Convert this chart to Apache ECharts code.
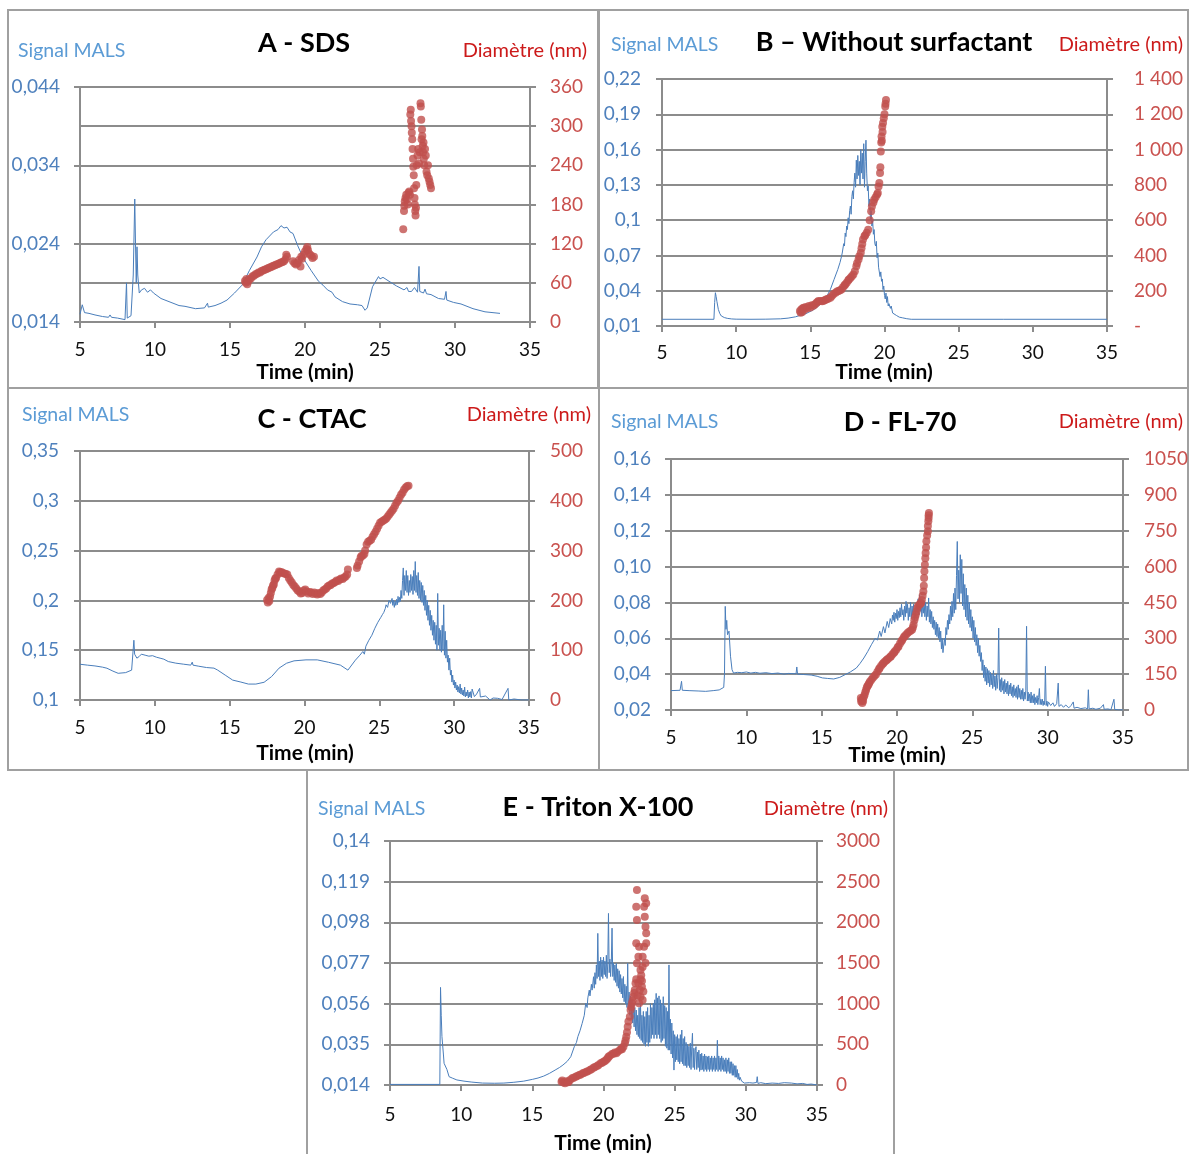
<!DOCTYPE html>
<html>
<head>
<meta charset="utf-8">
<script src="https://cdn.jsdelivr.net/npm/echarts@6/dist/echarts.min.js"></script>
<style>
html,body{margin:0;padding:0;background:#fff;}
#chart{width:1192px;height:1154px;}
</style>
</head>
<body>
<div id="chart"></div>
<script>
// ---------------- DATA ----------------
const xTicks = [5, 10, 15, 20, 25, 30, 35];

// Panel A - SDS
const malsA = [[5.0,0.0150],[5.15,0.0162],[5.3,0.0152],[5.6,0.0151],[6.0,0.0149],[6.5,0.0147],[6.9,0.0146],[7.0,0.0149],[7.1,0.0146],[7.5,0.0145],[8.0,0.0143],[8.05,0.0144],[8.1,0.0190],[8.15,0.0145],[8.4,0.0148],[8.55,0.0200],[8.65,0.0297],[8.7,0.0240],[8.75,0.0190],[8.8,0.0236],[8.85,0.0200],[8.95,0.0177],[9.1,0.0181],[9.3,0.0183],[9.5,0.0178],[9.7,0.0181],[9.9,0.0177],[10.4,0.0170],[10.8,0.0167],[11.2,0.0164],[11.6,0.0161],[12.0,0.0160],[12.7,0.0157],[13.3,0.0158],[13.5,0.0164],[13.55,0.0159],[14.0,0.0161],[14.4,0.0164],[14.8,0.0168],[15.3,0.0177],[15.8,0.0187],[16.3,0.0206],[16.8,0.0223],[17.1,0.0236],[17.4,0.0245],[17.9,0.0255],[18.2,0.0258],[18.4,0.0263],[18.6,0.0260],[18.8,0.0261],[19.0,0.0255],[19.2,0.0253],[19.5,0.0238],[19.9,0.0221],[20.4,0.0206],[20.9,0.0192],[21.2,0.0187],[21.5,0.0181],[21.8,0.0178],[22.0,0.0172],[22.5,0.0166],[23.0,0.0163],[23.5,0.0162],[23.8,0.0161],[24.0,0.0155],[24.15,0.0158],[24.5,0.0185],[24.9,0.0198],[25.0,0.0195],[25.2,0.0197],[25.6,0.0192],[26.1,0.0186],[26.6,0.0181],[26.8,0.0184],[26.9,0.0179],[27.1,0.0179],[27.3,0.0184],[27.5,0.0178],[27.6,0.0211],[27.65,0.0179],[27.9,0.0177],[28.0,0.0182],[28.1,0.0176],[28.4,0.0175],[28.9,0.0170],[29.3,0.0169],[29.4,0.0179],[29.45,0.0168],[29.9,0.0165],[30.4,0.0163],[31.2,0.0157],[32.0,0.0153],[33.0,0.0151]];
const diamA = [[16.0,63],[16.05,60],[16.1,66],[16.15,58],[16.2,62],[16.3,65],[16.4,67],[16.5,70],[16.6,71],[16.7,73],[16.8,74],[16.9,76],[17.0,76],[17.1,78],[17.2,79],[17.3,80],[17.4,81],[17.5,82],[17.6,83],[17.7,84],[17.8,85],[17.9,86],[18.0,87],[18.1,88],[18.2,89],[18.3,90],[18.4,91],[18.5,92],[18.6,93],[18.7,96],[18.75,103],[18.8,100],[19.2,93],[19.3,90],[19.4,88],[19.5,90],[19.6,95],[19.7,85],[19.75,100],[19.8,97],[19.9,103],[20.0,108],[20.1,112],[20.15,115],[20.2,110],[20.3,104],[20.4,102],[20.5,98],[20.6,100],[26.55,142],[26.6,170],[26.62,178],[26.65,185],[26.7,190],[26.75,195],[26.8,188],[26.85,180],[26.9,198],[26.95,200],[27.0,195],[27.02,318],[27.05,325],[27.07,308],[27.1,300],[27.12,290],[27.15,280],[27.17,265],[27.2,250],[27.22,238],[27.25,225],[27.27,205],[27.3,190],[27.32,180],[27.35,170],[27.37,163],[27.4,175],[27.42,210],[27.45,240],[27.5,255],[27.55,265],[27.6,243],[27.65,260],[27.7,335],[27.72,330],[27.75,310],[27.77,280],[27.8,295],[27.82,285],[27.85,270],[27.87,260],[27.9,275],[27.92,250],[27.95,240],[28.0,265],[28.05,255],[28.1,230],[28.15,225],[28.2,240],[28.25,220],[28.3,215],[28.35,210],[28.4,205]];
const leftTicksA = [0.014, 0.024, 0.034, 0.044];
const leftLabelsA = ['0,014', '0,024', '0,034', '0,044'];
const rightTicksA = [0, 60, 120, 180, 240, 300, 360];
const rightLabelsA = ['0', '60', '120', '180', '240', '300', '360'];

// Panel B - Without surfactant
const malsB = [[5,0.0157],[8.5,0.0157],[8.55,0.030],[8.6,0.0383],[8.65,0.035],[8.7,0.031],[8.8,0.024],[8.9,0.0205],[9.0,0.0185],[9.2,0.0172],[9.4,0.0165],[9.7,0.0160],[10,0.0158],[11,0.0157],[12,0.0158],[13,0.0161],[13.5,0.0167],[14.0,0.0178],[14.3,0.0190],[14.7,0.0205],[15.05,0.0227],[15.3,0.0245],[15.55,0.0270],[15.8,0.030],[16.1,0.035],[16.35,0.041],[16.6,0.0496],[16.85,0.058],[17.0,0.064],[17.1,0.069],[17.15,0.072],[17.25,0.080],[17.3,0.078],[17.35,0.089],[17.4,0.086],[17.45,0.095],[17.5,0.092],[17.55,0.102],[17.6,0.097],[17.65,0.108],[17.7,0.112],[17.75,0.105],[17.8,0.120],[17.85,0.125],[17.9,0.118],[17.95,0.132],[18.0,0.140],[18.05,0.128],[18.1,0.151],[18.15,0.135],[18.2,0.155],[18.25,0.138],[18.3,0.150],[18.35,0.130],[18.4,0.160],[18.45,0.140],[18.5,0.157],[18.55,0.135],[18.6,0.165],[18.65,0.128],[18.7,0.150],[18.75,0.168],[18.8,0.140],[18.85,0.125],[18.9,0.129],[18.95,0.112],[19.0,0.118],[19.05,0.100],[19.1,0.108],[19.15,0.095],[19.2,0.100],[19.25,0.088],[19.3,0.092],[19.35,0.080],[19.4,0.078],[19.45,0.082],[19.5,0.068],[19.55,0.072],[19.6,0.060],[19.65,0.061],[19.7,0.052],[19.75,0.056],[19.8,0.048],[19.85,0.050],[19.9,0.041],[19.95,0.044],[20.0,0.036],[20.05,0.033],[20.1,0.038],[20.15,0.030],[20.2,0.035],[20.25,0.027],[20.3,0.029],[20.4,0.025],[20.45,0.027],[20.55,0.021],[20.65,0.022],[20.8,0.019],[21.0,0.0175],[21.2,0.017],[21.5,0.0162],[21.8,0.0157],[23,0.0157],[28,0.0157],[28.05,0.0160],[28.1,0.0157],[35,0.0157]];
const diamB = [[14.3,85],[14.35,75],[14.4,95],[14.45,80],[14.5,100],[14.55,104],[14.6,92],[14.7,108],[14.8,100],[14.9,113],[15.0,105],[15.1,118],[15.2,115],[15.3,122],[15.4,130],[15.5,138],[15.55,141],[15.7,142],[15.8,140],[15.9,143],[16.0,148],[16.1,152],[16.2,155],[16.35,160],[16.45,170],[16.55,180],[16.7,188],[16.8,195],[16.9,198],[17.0,203],[17.1,207],[17.2,220],[17.3,230],[17.35,235],[17.45,245],[17.55,258],[17.6,264],[17.7,272],[17.8,282],[17.9,292],[18.0,310],[18.1,339],[18.15,355],[18.25,377],[18.3,395],[18.4,415],[18.45,440],[18.5,465],[18.55,490],[18.65,509],[18.7,515],[18.8,528],[18.9,546],[19.0,600],[19.1,650],[19.15,678],[19.25,700],[19.3,716],[19.4,730],[19.5,745],[19.55,754],[19.6,790],[19.65,810],[19.7,867],[19.72,900],[19.75,989],[19.78,1040],[19.8,1074],[19.82,1050],[19.85,1130],[19.87,1100],[19.9,1150],[19.95,1178],[20.0,1200],[20.05,1244],[20.07,1260],[20.1,1281]];
const leftTicksB = [0.01, 0.04, 0.07, 0.1, 0.13, 0.16, 0.19, 0.22];
const leftLabelsB = ['0,01', '0,04', '0,07', '0,1', '0,13', '0,16', '0,19', '0,22'];
const rightTicksB = [0, 200, 400, 600, 800, 1000, 1200, 1400];
const rightLabelsB = ['-', '200', '400', '600', '800', '1 000', '1 200', '1 400'];

// Panel C - CTAC
const malsC = [[5,0.1359],[5.5,0.1350],[6.0,0.1342],[6.5,0.1330],[6.8,0.1319],[7.2,0.1290],[7.55,0.1268],[8.05,0.1275],[8.45,0.1300],[8.55,0.1310],[8.6,0.1600],[8.65,0.1460],[8.7,0.1450],[8.8,0.1420],[8.95,0.1436],[9.1,0.1460],[9.35,0.1450],[9.6,0.1440],[9.85,0.1445],[10.1,0.1430],[10.35,0.1420],[10.6,0.1410],[10.9,0.1386],[11.4,0.1370],[11.9,0.1360],[12.4,0.1350],[12.5,0.1380],[12.55,0.1350],[12.9,0.1340],[13.45,0.1326],[13.95,0.1320],[14.2,0.1300],[14.7,0.1250],[15.2,0.1200],[15.75,0.1180],[16.25,0.1160],[16.75,0.1160],[17.3,0.1178],[17.8,0.1235],[18.3,0.1320],[18.8,0.1369],[19.3,0.1393],[20.1,0.1403],[20.85,0.1403],[21.6,0.1379],[22.4,0.1350],[22.9,0.1300],[23.0,0.1285],[23.4,0.1400],[23.7,0.1450],[23.9,0.1487],[24.0,0.1460],[24.1,0.1540],[24.2,0.1520],[24.3,0.1600],[24.4,0.1580],[24.5,0.1650],[24.6,0.1630],[24.7,0.1720],[24.8,0.1700],[24.9,0.1780],[25.0,0.1760],[25.1,0.1830],[25.2,0.1856],[25.3,0.1880],[25.4,0.1920],[25.45,0.1956],[25.55,0.1930],[25.65,0.2000],[25.75,0.1970],[25.85,0.2020],[25.9,0.1950],[25.95,0.2000],[26.0,0.1930],[26.05,0.1990],[26.1,0.1950],[26.15,0.2010],[26.2,0.1956],[26.25,0.2040],[26.3,0.1980],[26.35,0.2030],[26.4,0.1990],[26.45,0.2100],[26.5,0.2020],[26.55,0.2200],[26.6,0.2326],[26.65,0.2050],[26.7,0.2250],[26.75,0.2100],[26.8,0.2300],[26.85,0.2080],[26.9,0.2250],[26.95,0.2050],[27.0,0.2200],[27.05,0.2080],[27.1,0.2260],[27.15,0.2100],[27.2,0.2240],[27.25,0.2060],[27.3,0.2300],[27.35,0.2100],[27.4,0.2390],[27.45,0.2080],[27.5,0.2250],[27.55,0.2050],[27.6,0.2280],[27.65,0.2020],[27.7,0.2200],[27.75,0.2000],[27.8,0.2180],[27.85,0.1980],[27.9,0.2150],[27.95,0.1950],[28.0,0.2100],[28.05,0.1900],[28.1,0.2050],[28.15,0.1850],[28.2,0.2000],[28.25,0.1800],[28.3,0.1950],[28.35,0.1750],[28.4,0.1900],[28.45,0.1700],[28.5,0.1850],[28.55,0.1650],[28.6,0.1800],[28.65,0.1600],[28.7,0.1780],[28.75,0.1560],[28.8,0.1750],[28.85,0.1500],[28.9,0.2070],[28.95,0.1550],[29.0,0.1720],[29.05,0.1500],[29.1,0.1700],[29.15,0.1480],[29.2,0.1750],[29.25,0.1500],[29.3,0.1956],[29.35,0.1450],[29.4,0.1690],[29.45,0.1420],[29.5,0.1600],[29.55,0.1380],[29.6,0.1450],[29.65,0.1300],[29.7,0.1420],[29.75,0.1250],[29.8,0.1300],[29.85,0.1180],[29.9,0.1250],[29.95,0.1150],[30.0,0.1200],[30.05,0.1120],[30.1,0.1180],[30.15,0.1100],[30.2,0.1150],[30.25,0.1080],[30.3,0.1134],[30.35,0.1070],[30.4,0.1160],[30.45,0.1060],[30.5,0.1120],[30.55,0.1050],[30.6,0.1100],[30.65,0.1040],[30.7,0.1130],[30.75,0.1030],[30.8,0.1080],[30.85,0.1040],[30.9,0.1100],[30.95,0.1020],[31.0,0.1080],[31.05,0.1030],[31.1,0.1084],[31.15,0.1020],[31.2,0.1110],[31.35,0.1034],[31.5,0.1060],[31.6,0.1050],[31.7,0.1117],[31.75,0.1030],[31.85,0.1017],[32.1,0.1040],[32.4,0.1000],[32.6,0.1020],[32.9,0.1017],[33.2,0.1005],[33.6,0.1117],[33.65,0.1000],[34.0,0.1010],[34.5,0.1000],[35,0.1000]];
const diamC = [[17.5,201],[17.55,196],[17.6,205],[17.65,199],[17.7,208],[17.75,215],[17.8,222],[17.85,225],[17.9,230],[17.95,232],[18.0,240],[18.05,244],[18.1,245],[18.2,252],[18.3,258],[18.35,256],[18.45,257],[18.55,255],[18.65,254],[18.75,253],[18.85,252],[18.95,245],[19.05,240],[19.15,236],[19.25,231],[19.35,228],[19.45,224],[19.55,220],[19.65,218],[19.75,214],[19.85,215],[19.95,220],[20.05,222],[20.15,218],[20.25,214],[20.35,217],[20.45,216],[20.55,213],[20.65,216],[20.75,214],[20.85,212],[20.95,215],[21.05,213],[21.15,216],[21.25,220],[21.35,222],[21.45,224],[21.55,228],[21.65,230],[21.75,231],[21.85,234],[21.95,235],[22.05,237],[22.15,240],[22.25,239],[22.35,242],[22.45,244],[22.55,243],[22.65,246],[22.75,248],[22.85,252],[22.9,262],[23.5,265],[23.55,270],[23.65,278],[23.75,286],[23.8,289],[23.9,290],[24.0,293],[24.05,300],[24.15,312],[24.25,318],[24.35,320],[24.45,322],[24.55,328],[24.65,333],[24.75,338],[24.85,344],[24.95,350],[25.05,356],[25.15,358],[25.25,360],[25.35,362],[25.45,364],[25.55,368],[25.65,372],[25.75,376],[25.85,380],[25.95,384],[26.05,390],[26.15,396],[26.25,400],[26.35,406],[26.45,412],[26.55,416],[26.65,422],[26.75,426],[26.85,429],[26.95,430]];
const leftTicksC = [0.1, 0.15, 0.2, 0.25, 0.3, 0.35];
const leftLabelsC = ['0,1', '0,15', '0,2', '0,25', '0,3', '0,35'];
const rightTicksC = [0, 100, 200, 300, 400, 500];
const rightLabelsC = ['0', '100', '200', '300', '400', '500'];

// Panel D - FL-70
const malsD = [[5,0.0308],[5.6,0.0310],[5.7,0.0360],[5.75,0.0310],[6.2,0.0308],[6.8,0.0306],[7.3,0.0304],[7.8,0.0308],[8.2,0.0312],[8.5,0.0326],[8.55,0.0400],[8.6,0.0778],[8.65,0.0650],[8.7,0.0700],[8.75,0.0620],[8.85,0.0640],[8.95,0.0500],[9.05,0.0425],[9.15,0.0406],[9.4,0.0410],[9.7,0.0408],[10.0,0.0412],[10.3,0.0406],[10.6,0.0410],[10.9,0.0405],[11.3,0.0408],[11.7,0.0403],[12.1,0.0406],[12.5,0.0400],[12.8,0.0404],[13.3,0.0402],[13.35,0.0440],[13.4,0.0400],[13.8,0.0398],[14.3,0.0395],[14.7,0.0388],[15.05,0.0379],[15.4,0.0376],[15.8,0.0373],[16.2,0.0382],[16.55,0.0397],[16.9,0.0412],[17.3,0.0434],[17.55,0.0460],[17.8,0.0490],[18.05,0.0525],[18.3,0.0564],[18.55,0.0600],[18.7,0.0590],[18.85,0.0640],[18.95,0.0610],[19.1,0.0665],[19.2,0.0630],[19.35,0.0694],[19.45,0.0660],[19.55,0.0710],[19.6,0.0705],[19.65,0.0680],[19.7,0.0730],[19.75,0.0700],[19.8,0.0745],[19.85,0.0690],[19.9,0.0740],[19.95,0.0710],[20.0,0.0760],[20.05,0.0700],[20.1,0.0750],[20.15,0.0715],[20.2,0.0770],[20.25,0.0720],[20.3,0.0790],[20.35,0.0730],[20.4,0.0760],[20.45,0.0700],[20.5,0.0780],[20.55,0.0720],[20.6,0.0806],[20.65,0.0740],[20.7,0.0790],[20.75,0.0700],[20.8,0.0770],[20.85,0.0720],[20.9,0.0800],[20.95,0.0710],[21.0,0.0780],[21.05,0.0730],[21.1,0.0790],[21.15,0.0700],[21.2,0.0760],[21.25,0.0720],[21.3,0.0800],[21.35,0.0740],[21.4,0.0820],[21.45,0.0730],[21.5,0.0843],[21.55,0.0750],[21.6,0.0800],[21.65,0.0720],[21.7,0.0790],[21.75,0.0740],[21.8,0.0810],[21.85,0.0720],[21.9,0.0800],[21.95,0.0700],[22.0,0.0780],[22.05,0.0720],[22.1,0.0825],[22.15,0.0690],[22.2,0.0760],[22.25,0.0680],[22.3,0.0750],[22.35,0.0660],[22.4,0.0720],[22.45,0.0650],[22.5,0.0700],[22.55,0.0620],[22.6,0.0690],[22.65,0.0610],[22.7,0.0680],[22.75,0.0600],[22.8,0.0660],[22.85,0.0580],[22.9,0.0640],[22.95,0.0540],[23.0,0.0600],[23.05,0.0520],[23.1,0.0509],[23.15,0.0600],[23.2,0.0560],[23.25,0.0660],[23.3,0.0620],[23.35,0.0700],[23.4,0.0650],[23.45,0.0732],[23.5,0.0680],[23.55,0.0780],[23.6,0.0700],[23.65,0.0806],[23.7,0.0720],[23.75,0.0850],[23.8,0.0740],[23.85,0.0880],[23.9,0.0760],[23.95,0.0950],[24.0,0.1140],[24.05,0.0820],[24.1,0.0980],[24.15,0.0800],[24.2,0.1066],[24.25,0.0850],[24.3,0.1040],[24.35,0.0780],[24.4,0.0960],[24.45,0.0760],[24.5,0.0900],[24.55,0.0720],[24.6,0.0880],[24.65,0.0700],[24.7,0.0840],[24.75,0.0680],[24.8,0.0800],[24.85,0.0660],[24.9,0.0760],[24.95,0.0640],[25.0,0.0720],[25.05,0.0600],[25.1,0.0700],[25.15,0.0580],[25.2,0.0660],[25.25,0.0560],[25.3,0.0620],[25.35,0.0520],[25.4,0.0600],[25.45,0.0500],[25.5,0.0560],[25.55,0.0471],[25.6,0.0520],[25.65,0.0420],[25.7,0.0480],[25.75,0.0380],[25.8,0.0450],[25.85,0.0360],[25.9,0.0440],[25.95,0.0340],[26.0,0.0430],[26.05,0.0350],[26.1,0.0420],[26.15,0.0330],[26.2,0.0410],[26.25,0.0340],[26.3,0.0400],[26.35,0.0320],[26.4,0.0420],[26.45,0.0330],[26.5,0.0390],[26.55,0.0310],[26.6,0.0400],[26.65,0.0320],[26.7,0.0380],[26.75,0.0657],[26.8,0.0310],[26.85,0.0370],[26.9,0.0300],[26.95,0.0380],[27.0,0.0310],[27.05,0.0360],[27.1,0.0290],[27.15,0.0370],[27.2,0.0300],[27.25,0.0350],[27.3,0.0290],[27.35,0.0360],[27.4,0.0280],[27.45,0.0340],[27.5,0.0290],[27.55,0.0350],[27.6,0.0280],[27.65,0.0330],[27.7,0.0270],[27.75,0.0340],[27.8,0.0280],[27.85,0.0320],[27.9,0.0270],[27.95,0.0330],[28.0,0.0260],[28.05,0.0340],[28.1,0.0270],[28.15,0.0320],[28.2,0.0260],[28.25,0.0310],[28.3,0.0260],[28.35,0.0320],[28.4,0.0250],[28.45,0.0300],[28.5,0.0260],[28.55,0.0310],[28.6,0.0667],[28.65,0.0250],[28.7,0.0300],[28.75,0.0250],[28.8,0.0290],[28.85,0.0240],[28.9,0.0300],[28.95,0.0240],[29.0,0.0280],[29.05,0.0240],[29.1,0.0290],[29.15,0.0230],[29.2,0.0270],[29.25,0.0240],[29.3,0.0280],[29.35,0.0230],[29.4,0.0270],[29.45,0.0320],[29.5,0.0230],[29.55,0.0260],[29.6,0.0230],[29.65,0.0260],[29.7,0.0225],[29.75,0.0250],[29.8,0.0230],[29.85,0.0444],[29.9,0.0225],[29.95,0.0250],[30.0,0.0220],[30.05,0.0245],[30.2,0.0225],[30.35,0.0240],[30.45,0.0220],[30.6,0.0235],[30.7,0.0350],[30.75,0.0220],[30.9,0.0230],[31.05,0.0215],[31.2,0.0228],[31.4,0.0212],[31.55,0.0225],[31.7,0.0245],[31.75,0.0210],[31.95,0.0215],[32.2,0.0208],[32.5,0.0212],[32.65,0.0206],[32.7,0.0313],[32.75,0.0206],[33.0,0.0210],[33.2,0.0204],[33.5,0.0210],[33.7,0.0230],[33.75,0.0204],[34.0,0.0206],[34.2,0.0202],[34.4,0.0260],[34.45,0.0203],[34.7,0.0201],[35,0.0200]];
const diamD = [[17.6,50],[17.62,36],[17.65,42],[17.7,29],[17.72,45],[17.75,38],[17.8,55],[17.85,64],[17.9,75],[17.95,85],[18.0,95],[18.05,100],[18.1,106],[18.15,112],[18.2,118],[18.3,127],[18.4,135],[18.5,142],[18.6,148],[18.7,160],[18.8,170],[18.85,176],[18.95,185],[19.05,192],[19.1,197],[19.2,203],[19.3,208],[19.35,211],[19.45,217],[19.55,222],[19.6,225],[19.7,233],[19.8,240],[19.85,245],[19.95,252],[20.05,262],[20.1,266],[20.2,278],[20.3,288],[20.35,294],[20.45,303],[20.5,308],[20.6,315],[20.7,322],[20.8,327],[20.9,332],[21.0,336],[21.05,345],[21.1,357],[21.15,375],[21.2,388],[21.25,399],[21.3,412],[21.35,427],[21.4,435],[21.5,441],[21.55,445],[21.6,448],[21.65,460],[21.7,478],[21.75,496],[21.78,520],[21.8,552],[21.82,580],[21.85,608],[21.88,635],[21.9,657],[21.93,680],[21.95,706],[22.0,730],[22.05,748],[22.05,770],[22.08,790],[22.1,803],[22.1,815],[22.12,824]];
const leftTicksD = [0.02, 0.04, 0.06, 0.08, 0.10, 0.12, 0.14, 0.16];
const leftLabelsD = ['0,02', '0,04', '0,06', '0,08', '0,10', '0,12', '0,14', '0,16'];
const rightTicksD = [0, 150, 300, 450, 600, 750, 900, 1050];
const rightLabelsD = ['0', '150', '300', '450', '600', '750', '900', '1050'];

// Panel E - Triton X-100
const malsE = [[5,0.0143],[8.5,0.0143],[8.55,0.0644],[8.6,0.0500],[8.65,0.0390],[8.75,0.0300],[8.8,0.0252],[8.9,0.0255],[9.0,0.0220],[9.15,0.0183],[9.4,0.0175],[9.7,0.0166],[10.2,0.0160],[10.75,0.0155],[11.5,0.0150],[12.35,0.0149],[13.0,0.0150],[13.7,0.0154],[14.4,0.0160],[15.0,0.0169],[15.4,0.0176],[15.8,0.0186],[16.2,0.0200],[16.6,0.0217],[16.9,0.0230],[17.15,0.0243],[17.45,0.0262],[17.7,0.0286],[17.95,0.0338],[18.1,0.0360],[18.2,0.0390],[18.35,0.0420],[18.5,0.0458],[18.65,0.0500],[18.75,0.0562],[18.85,0.0540],[18.9,0.0590],[19.0,0.0630],[19.05,0.0600],[19.15,0.0660],[19.2,0.0630],[19.3,0.0699],[19.35,0.0640],[19.4,0.0720],[19.45,0.0660],[19.5,0.0760],[19.55,0.0690],[19.6,0.0923],[19.65,0.0700],[19.7,0.0780],[19.75,0.0680],[19.8,0.0800],[19.85,0.0700],[19.9,0.0785],[19.95,0.0690],[20.0,0.0800],[20.05,0.0710],[20.1,0.0780],[20.15,0.0700],[20.2,0.0810],[20.25,0.0690],[20.3,0.0770],[20.35,0.1026],[20.4,0.0720],[20.45,0.0790],[20.5,0.0700],[20.55,0.0780],[20.6,0.0950],[20.65,0.0700],[20.7,0.0770],[20.75,0.0680],[20.8,0.0760],[20.85,0.0670],[20.9,0.0768],[20.95,0.0650],[21.0,0.0740],[21.05,0.0640],[21.1,0.0730],[21.15,0.0620],[21.2,0.0710],[21.25,0.0610],[21.3,0.0690],[21.35,0.0590],[21.4,0.0700],[21.45,0.0570],[21.5,0.0660],[21.55,0.0560],[21.6,0.0650],[21.65,0.0540],[21.7,0.0768],[21.75,0.0530],[21.8,0.0620],[21.85,0.0500],[21.9,0.0600],[21.95,0.0480],[22.0,0.0580],[22.05,0.0460],[22.1,0.0562],[22.15,0.0440],[22.2,0.0540],[22.25,0.0420],[22.3,0.0527],[22.35,0.0400],[22.4,0.0500],[22.45,0.0390],[22.5,0.0540],[22.55,0.0380],[22.6,0.0562],[22.65,0.0370],[22.7,0.0500],[22.75,0.0360],[22.8,0.0520],[22.85,0.0350],[22.9,0.0493],[22.95,0.0340],[23.0,0.0520],[23.05,0.0360],[23.1,0.0540],[23.15,0.0340],[23.2,0.0500],[23.25,0.0360],[23.3,0.0560],[23.35,0.0380],[23.4,0.0540],[23.45,0.0400],[23.5,0.0562],[23.55,0.0380],[23.6,0.0580],[23.65,0.0400],[23.7,0.0613],[23.75,0.0380],[23.8,0.0590],[23.85,0.0400],[23.9,0.0600],[23.95,0.0380],[24.0,0.0580],[24.05,0.0360],[24.1,0.0560],[24.15,0.0370],[24.2,0.0596],[24.25,0.0380],[24.3,0.0550],[24.35,0.0340],[24.4,0.0540],[24.45,0.0330],[24.5,0.0520],[24.55,0.0320],[24.6,0.0760],[24.65,0.0320],[24.7,0.0480],[24.75,0.0300],[24.8,0.0460],[24.85,0.0280],[24.9,0.0420],[24.95,0.0217],[25.0,0.0400],[25.05,0.0260],[25.1,0.0390],[25.15,0.0270],[25.2,0.0400],[25.25,0.0260],[25.3,0.0380],[25.35,0.0250],[25.4,0.0400],[25.45,0.0260],[25.5,0.0424],[25.55,0.0250],[25.6,0.0380],[25.65,0.0240],[25.7,0.0390],[25.75,0.0240],[25.8,0.0360],[25.85,0.0230],[25.9,0.0350],[25.95,0.0240],[26.0,0.0340],[26.05,0.0230],[26.1,0.0356],[26.15,0.0220],[26.2,0.0340],[26.25,0.0407],[26.3,0.0230],[26.35,0.0330],[26.4,0.0220],[26.45,0.0320],[26.5,0.0338],[26.55,0.0220],[26.6,0.0310],[26.65,0.0230],[26.7,0.0320],[26.75,0.0210],[26.8,0.0300],[26.85,0.0217],[26.9,0.0304],[26.95,0.0220],[27.0,0.0290],[27.05,0.0210],[27.1,0.0300],[27.15,0.0220],[27.2,0.0290],[27.25,0.0210],[27.3,0.0286],[27.35,0.0220],[27.4,0.0290],[27.45,0.0210],[27.5,0.0280],[27.55,0.0220],[27.6,0.0290],[27.65,0.0210],[27.7,0.0280],[27.75,0.0220],[27.8,0.0290],[27.85,0.0210],[27.9,0.0280],[27.95,0.0220],[28.0,0.0371],[28.05,0.0210],[28.1,0.0290],[28.15,0.0220],[28.2,0.0280],[28.25,0.0210],[28.3,0.0290],[28.35,0.0220],[28.4,0.0280],[28.45,0.0210],[28.5,0.0270],[28.55,0.0210],[28.6,0.0280],[28.65,0.0200],[28.7,0.0270],[28.75,0.0210],[28.8,0.0280],[28.85,0.0200],[28.9,0.0260],[28.95,0.0200],[29.0,0.0260],[29.05,0.0190],[29.1,0.0250],[29.15,0.0190],[29.2,0.0240],[29.25,0.0180],[29.3,0.0240],[29.35,0.0180],[29.4,0.0220],[29.45,0.0170],[29.5,0.0200],[29.55,0.0165],[29.6,0.0180],[29.7,0.0160],[29.8,0.0165],[29.9,0.0150],[30.0,0.0155],[30.25,0.0152],[30.5,0.0150],[30.75,0.0153],[30.8,0.0183],[30.85,0.0148],[31.05,0.0152],[31.4,0.0147],[31.85,0.0150],[32.3,0.0148],[32.7,0.0152],[33.2,0.0150],[33.6,0.0146],[34.0,0.0148],[34.3,0.0143],[34.6,0.0145],[35,0.0140]];
const diamE = [[17.05,41],[17.1,55],[17.2,30],[17.3,20],[17.4,45],[17.5,35],[17.55,41],[17.65,60],[17.8,82],[17.9,90],[18.05,102],[18.15,110],[18.3,123],[18.4,130],[18.55,143],[18.65,150],[18.8,164],[18.9,170],[19.05,184],[19.15,195],[19.3,213],[19.4,220],[19.55,234],[19.65,245],[19.8,266],[19.9,275],[20.0,285],[20.1,295],[20.2,310],[20.3,330],[20.35,348],[20.45,360],[20.6,381],[20.7,385],[20.8,400],[20.9,389],[21.0,410],[21.15,430],[21.25,445],[21.3,440],[21.4,471],[21.5,512],[21.55,550],[21.6,594],[21.65,650],[21.7,717],[21.75,780],[21.85,840],[21.9,922],[21.95,960],[22.0,1004],[22.05,1040],[22.1,1086],[22.15,1130],[22.2,1168],[22.25,1250],[22.3,1300],[22.35,1496],[22.45,1578],[22.3,1742],[22.35,2029],[22.3,2193],[22.35,2398],[22.5,1701],[22.6,1414],[22.65,1350],[22.7,1280],[22.75,1045],[22.85,2193],[22.9,2295],[23.0,2234],[22.9,2070],[22.95,1947],[23.0,1865],[23.0,1742],[22.75,1578],[22.7,1209],[22.5,1004],[22.6,1086],[22.55,1168],[22.4,1100],[22.45,1250],[22.6,1300],[22.8,1150],[22.85,1700],[22.75,1450],[22.95,1500]];
const leftTicksE = [0.014, 0.035, 0.056, 0.077, 0.098, 0.119, 0.14];
const leftLabelsE = ['0,014', '0,035', '0,056', '0,077', '0,098', '0,119', '0,14'];
const rightTicksE = [0, 500, 1000, 1500, 2000, 2500, 3000];
const rightLabelsE = ['0', '500', '1000', '1500', '2000', '2500', '3000'];

const titles = ['A - SDS', 'B \u2013 Without surfactant', 'C - CTAC', 'D - FL-70', 'E - Triton X-100'];

// ---------------- LAYOUT ----------------
const FONT = 'Lato, "Open Sans", sans-serif';
const GRID_COLOR = '#8c8c8c';
const BLUE_LINE = '#4a7ebb';
const BLUE_TEXT = '#4f81bd';
const BLUE_NAME = '#5b9bd5';
const RED_DOT = '#c0504d';
const RED_TICK = '#c9514e';
const RED_NAME = '#cc1a1a';

const panels = [
  {mals: malsA, diam: diamA, lt: leftTicksA, ll: leftLabelsA, rt: rightTicksA, rl: rightLabelsA, title: titles[0],
   grid: {left: 80, top: 87, width: 450, height: 235}, lm: 20, rm: 20, xm: 18,
   sig: [18, 51], ttl: [304, 43], dia: [587, 51], time: [305, 372]},
  {mals: malsB, diam: diamB, lt: leftTicksB, ll: leftLabelsB, rt: rightTicksB, rl: rightLabelsB, title: titles[1],
   grid: {left: 662, top: 79, width: 445, height: 247}, lm: 21, rm: 27, xm: 17,
   sig: [611, 45], ttl: [894, 42], dia: [1183, 45], time: [884, 372]},
  {mals: malsC, diam: diamC, lt: leftTicksC, ll: leftLabelsC, rt: rightTicksC, rl: rightLabelsC, title: titles[2],
   grid: {left: 80, top: 451, width: 449, height: 249}, lm: 21, rm: 21, xm: 18,
   sig: [22, 415], ttl: [312, 419], dia: [591, 415], time: [305, 753]},
  {mals: malsD, diam: diamD, lt: leftTicksD, ll: leftLabelsD, rt: rightTicksD, rl: rightLabelsD, title: titles[3],
   grid: {left: 671, top: 459, width: 452, height: 251}, lm: 20, rm: 21, xm: 18,
   sig: [611, 422], ttl: [900, 422], dia: [1183, 422], time: [897, 755]},
  {mals: malsE, diam: diamE, lt: leftTicksE, ll: leftLabelsE, rt: rightTicksE, rl: rightLabelsE, title: titles[4],
   grid: {left: 390, top: 841, width: 427, height: 244}, lm: 20, rm: 19, xm: 20,
   sig: [318, 809], ttl: [598, 807], dia: [888, 809], time: [603, 1143]}
];

function lookup(vals, labels) {
  return function (v) {
    for (let i = 0; i < vals.length; i++) {
      if (Math.abs(vals[i] - v) < 1e-9 * Math.max(1, Math.abs(v))) return labels[i];
    }
    return '';
  };
}

const grids = [], xAxes = [], yAxes = [], series = [], graphics = [];

panels.forEach(function (p, i) {
  grids.push(Object.assign({containLabel: false}, p.grid));
  xAxes.push({
    gridIndex: i, type: 'value', min: 5, max: 35, interval: 5,
    axisLine: {show: true, onZero: false, lineStyle: {color: GRID_COLOR, width: 2}},
    axisTick: {show: true, length: 6, lineStyle: {color: GRID_COLOR, width: 2}},
    axisLabel: {color: '#111', fontSize: 19, fontFamily: FONT, margin: p.xm,
      formatter: lookup(xTicks, xTicks.map(String))},
    splitLine: {show: false}
  });
  const lo = p.lt[0], hi = p.lt[p.lt.length - 1];
  yAxes.push({
    gridIndex: i, type: 'value', position: 'left', min: lo, max: hi,
    axisLine: {show: true, onZero: false, lineStyle: {color: GRID_COLOR, width: 2}},
    axisTick: {show: true, length: 6, customValues: p.lt, lineStyle: {color: GRID_COLOR, width: 2}},
    axisLabel: {color: BLUE_TEXT, fontSize: 19, fontFamily: FONT, margin: p.lm, customValues: p.lt,
      formatter: lookup(p.lt, p.ll)},
    splitLine: {show: false}
  });
  const rhi = p.rt[p.rt.length - 1];
  yAxes.push({
    gridIndex: i, type: 'value', position: 'right', min: 0, max: rhi, interval: p.rt[1] - p.rt[0],
    axisLine: {show: true, onZero: false, lineStyle: {color: GRID_COLOR, width: 2}},
    axisTick: {show: true, length: 6, lineStyle: {color: GRID_COLOR, width: 2}},
    axisLabel: {color: RED_TICK, fontSize: 19, fontFamily: FONT, margin: p.rm,
      formatter: lookup(p.rt, p.rl)},
    splitLine: {show: true, lineStyle: {color: GRID_COLOR, width: 2}}
  });
  series.push({
    type: 'line', xAxisIndex: i, yAxisIndex: 2 * i, data: p.mals,
    symbol: 'none', showSymbol: false, silent: true,
    lineStyle: {color: BLUE_LINE, width: 1}, z: 2
  });
  series.push({
    type: 'scatter', xAxisIndex: i, yAxisIndex: 2 * i + 1, data: p.diam,
    symbol: 'circle', symbolSize: 8, silent: true,
    itemStyle: {color: RED_DOT}, z: 3
  });
  graphics.push({type: 'text', silent: true, style: {text: 'Signal MALS', x: p.sig[0], y: p.sig[1],
    fill: BLUE_NAME, font: '19.5px ' + FONT, align: 'left', verticalAlign: 'middle', textAlign: 'left', textVerticalAlign: 'middle'}});
  graphics.push({type: 'text', silent: true, style: {text: p.title, x: p.ttl[0], y: p.ttl[1],
    fill: '#000', font: 'bold 27px ' + FONT, align: 'center', verticalAlign: 'middle', textAlign: 'center', textVerticalAlign: 'middle'}});
  graphics.push({type: 'text', silent: true, style: {text: 'Diamètre (nm)', x: p.dia[0], y: p.dia[1],
    fill: RED_NAME, font: '20px ' + FONT, align: 'right', verticalAlign: 'middle', textAlign: 'right', textVerticalAlign: 'middle'}});
  graphics.push({type: 'text', silent: true, style: {text: 'Time (min)', x: p.time[0], y: p.time[1],
    fill: '#000', font: 'bold 21px ' + FONT, align: 'center', verticalAlign: 'middle', textAlign: 'center', textVerticalAlign: 'middle'}});
});

// panel frames
const frames = [[8, 10, 590, 378], [599, 10, 589, 378], [8, 388, 591, 382], [599, 388, 589, 382], [307, 770, 587, 390]];
frames.forEach(function (f) {
  graphics.push({type: 'rect', silent: true, z: -10, shape: {x: f[0], y: f[1], width: f[2], height: f[3]},
    style: {fill: 'none', stroke: '#a0a0a0', lineWidth: 2}});
});

const chart = echarts.init(document.getElementById('chart'), null, {renderer: 'canvas'});
chart.setOption({
  animation: false,
  backgroundColor: '#fff',
  textStyle: {fontFamily: FONT},
  grid: grids, xAxis: xAxes, yAxis: yAxes, series: series,
  graphic: {elements: graphics}
});
</script>
</body>
</html>
